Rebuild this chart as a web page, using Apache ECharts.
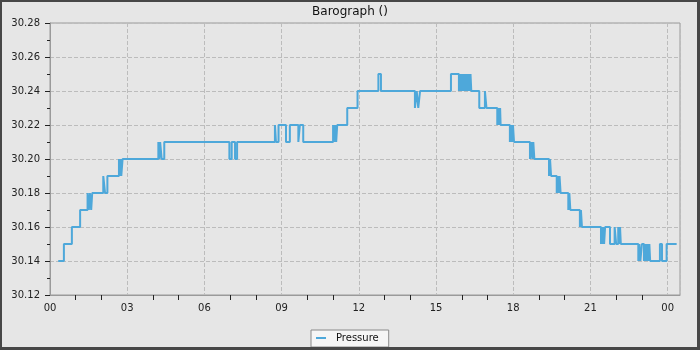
<!DOCTYPE html>
<html>
<head>
<meta charset="utf-8">
<script src="https://cdn.jsdelivr.net/npm/echarts@6/dist/echarts.min.js"></script>
<style>
html,body{margin:0;padding:0;background:#e6e6e6;}
#c{width:700px;height:350px;}
</style>
</head>
<body>
<div id="c"></div>
<script>
// Hours since midnight (start of each reading level) and pressure (inHg)
const hours = [
  0.32, 0.54, 0.85, 1.17, 1.46, 1.51, 1.55, 1.60, 1.64,
  2.07, 2.14, 2.23, 2.68, 2.71, 2.74, 2.77, 2.82,
  4.21, 4.25, 4.28, 4.34, 4.44,
  6.97, 7.06, 7.19, 7.27,
  8.74, 8.78, 8.88, 9.17, 9.32, 9.65, 9.71, 9.84,
  11.00, 11.04, 11.08, 11.12, 11.16, 11.20, 11.55, 11.95,
  12.76, 12.86, 14.18, 14.25, 14.31, 14.38, 15.58,
  15.89, 15.92, 15.95, 15.98, 16.01, 16.04, 16.07, 16.10, 16.13, 16.16, 16.19, 16.22, 16.25, 16.28, 16.31, 16.34, 16.37, 16.40,
  16.68, 16.90, 16.96,
  17.38, 17.42, 17.46, 17.49, 17.51,
  17.87, 17.91, 17.95, 17.99, 18.03,
  18.65, 18.70, 18.74, 18.78, 18.82,
  19.39, 19.43, 19.47,
  19.69, 19.72, 19.76, 19.80, 19.84,
  20.14, 20.18, 20.22,
  20.59, 20.63, 20.67,
  21.41, 21.44, 21.47, 21.50, 21.53, 21.57, 21.62, 21.76, 21.94, 22.00, 22.08, 22.12, 22.15, 22.18,
  22.86, 22.90, 22.94, 23.00, 23.08, 23.11, 23.14, 23.17, 23.20, 23.23, 23.26, 23.29, 23.32,
  23.70, 23.78, 23.96, 24.35
];
const pressure = [
  30.14, 30.15, 30.16, 30.17, 30.18, 30.17, 30.18, 30.17, 30.18,
  30.19, 30.18, 30.19, 30.20, 30.19, 30.20, 30.19, 30.20,
  30.21, 30.20, 30.21, 30.20, 30.21,
  30.20, 30.21, 30.20, 30.21,
  30.22, 30.21, 30.22, 30.21, 30.22, 30.21, 30.22, 30.21,
  30.22, 30.21, 30.22, 30.21, 30.22, 30.22, 30.23, 30.24,
  30.25, 30.24, 30.23, 30.24, 30.23, 30.24, 30.25,
  30.24, 30.25, 30.24, 30.25, 30.24, 30.25, 30.24, 30.25, 30.24, 30.25, 30.24, 30.25, 30.24, 30.25, 30.24, 30.25, 30.24, 30.24,
  30.23, 30.24, 30.23,
  30.22, 30.23, 30.22, 30.23, 30.22,
  30.21, 30.22, 30.21, 30.22, 30.21,
  30.20, 30.21, 30.20, 30.21, 30.20,
  30.19, 30.20, 30.19,
  30.18, 30.19, 30.18, 30.19, 30.18,
  30.17, 30.18, 30.17,
  30.16, 30.17, 30.16,
  30.15, 30.16, 30.15, 30.16, 30.15, 30.16, 30.16, 30.15, 30.16, 30.15, 30.16, 30.15, 30.16, 30.15,
  30.14, 30.15, 30.14, 30.15, 30.14, 30.15, 30.14, 30.15, 30.14, 30.15, 30.14, 30.15, 30.14,
  30.15, 30.14, 30.15, 30.15
];
const xTickLabels = ['00','03','06','09','12','15','18','21','00'];
const seriesName = 'Pressure';
const chartTitle = 'Barograph ()';

const FONT = 'DejaVu Sans';
const chart = echarts.init(document.getElementById('c'), null, {renderer: 'canvas'});
chart.setOption({
  backgroundColor: '#e6e6e6',
  animation: false,
  textStyle: {fontFamily: FONT},
  title: {
    text: chartTitle, left: 'center', top: 6, padding: 0,
    textStyle: {fontFamily: FONT, fontSize: 12, fontWeight: 'normal', color: '#111'}
  },
  legend: {
    data: [seriesName], left: 311, top: 330,
    padding: [3, 10, 4, 5], itemWidth: 10, itemHeight: 2, icon: 'rect',
    backgroundColor: '#f5f5f5', borderColor: '#8a8a8a', borderWidth: 1, borderRadius: 0,
    textStyle: {fontFamily: FONT, fontSize: 10, color: '#111', padding: [0, 0, 0, 5]}
  },
  grid: {left: 50, right: 20, top: 23, bottom: 55, show: true, borderColor: '#9a9a9a', borderWidth: 1, backgroundColor: 'transparent'},
  xAxis: {
    type: 'value', min: 0, max: 24.48, interval: 3,
    axisLine: {lineStyle: {color: '#9a9a9a'}},
    axisTick: {show: false},
    minorTick: {show: true, splitNumber: 3, length: 5, lineStyle: {color: '#222'}},
    axisLabel: {
      fontFamily: FONT, fontSize: 10, color: '#222', margin: 8, showMaxLabel: false,
      formatter: v => xTickLabels[Math.round(v / 3)] ?? ''
    },
    splitLine: {show: true, lineStyle: {color: '#bcbcbc', type: [4, 2], width: 1}}
  },
  yAxis: {
    type: 'value', min: 30.12, max: 30.28, interval: 0.02,
    axisLine: {show: true, lineStyle: {color: '#9a9a9a'}},
    axisTick: {show: true, length: 5, lineStyle: {color: '#222'}},
    minorTick: {show: true, splitNumber: 2, length: 3, lineStyle: {color: '#222'}},
    axisLabel: {fontFamily: FONT, fontSize: 10, color: '#222', margin: 10, formatter: v => v.toFixed(2)},
    splitLine: {show: true, lineStyle: {color: '#bcbcbc', type: [4, 2], width: 1}}
  },
  series: [{
    name: seriesName, type: 'line', step: 'end', showSymbol: false, symbol: 'none',
    data: hours.map((h, i) => [h, pressure[i]]),
    lineStyle: {color: '#4ea8da', width: 2},
    itemStyle: {color: '#4ea8da'}
  }],
  graphic: [
    {type: 'rect', shape: {x: 1, y: 1, width: 697, height: 347}, style: {fill: 'none', stroke: '#474747', lineWidth: 2}, z: 100},
    {type: 'line', shape: {x1: 698.5, y1: 0, x2: 698.5, y2: 350}, style: {stroke: '#474747', lineWidth: 3}, z: 100},
    {type: 'line', shape: {x1: 0, y1: 348.5, x2: 700, y2: 348.5}, style: {stroke: '#474747', lineWidth: 3}, z: 100}
  ]
});
</script>
</body>
</html>
